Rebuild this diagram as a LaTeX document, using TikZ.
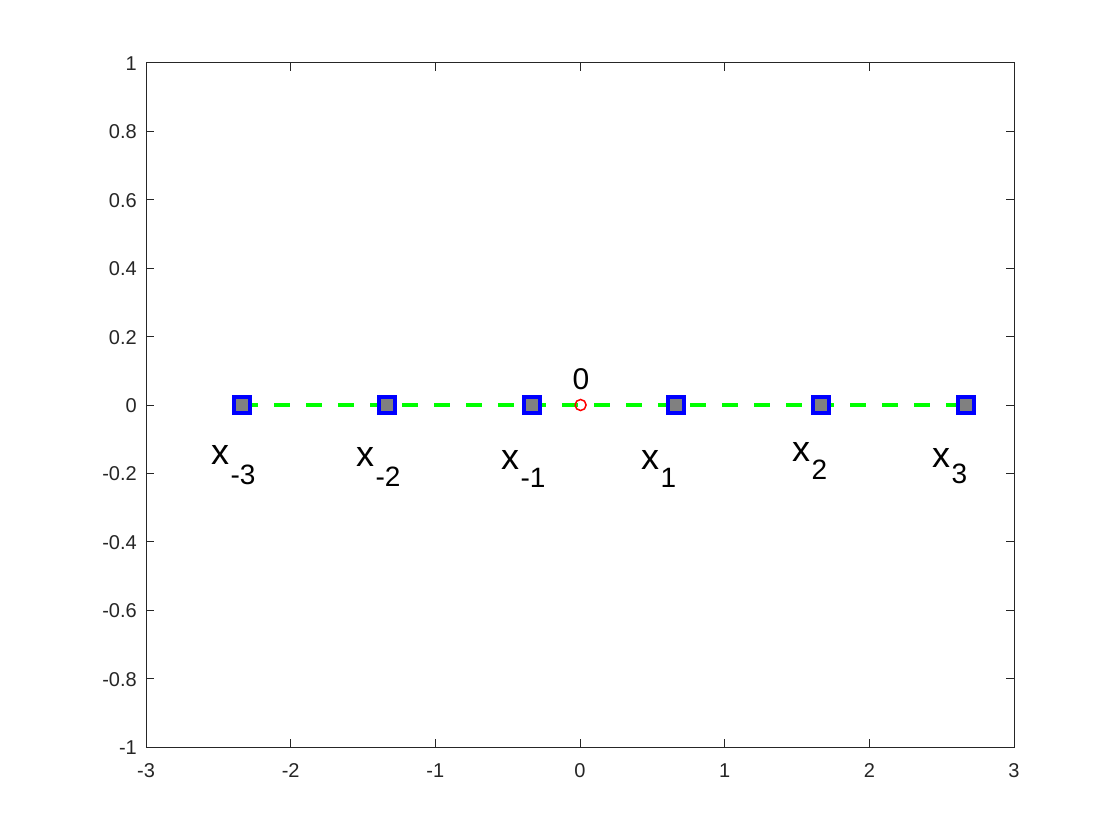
\documentclass[tikz,border=0pt]{standalone}
\usepackage{fontspec}
\setmainfont{Liberation Sans}
\definecolor{axcol}{RGB}{38,38,38}
\definecolor{mgreen}{RGB}{0,255,0}
\definecolor{mblue}{RGB}{0,0,255}
\definecolor{mgray}{RGB}{128,128,128}
\definecolor{mred}{RGB}{255,0,0}
\begin{document}
\begin{tikzpicture}[x=1pt,y=-1pt,
  axisline/.style={draw=axcol,line width=1pt},
  ticklab/.style={font=\fontsize{20}{22}\selectfont,text=axcol,inner sep=0pt},
  datline/.style={draw=mgreen,line width=4pt,dash pattern=on 16pt off 16pt},
  sqmark/.style={rectangle,draw=mblue,fill=mgray,line width=4pt,minimum size=16pt,inner sep=0pt},
  circmark/.style={circle,draw=mred,line width=1.5pt,minimum size=11pt,inner sep=0pt},
  xlab/.style={inner sep=0pt,anchor=base west,font=\fontsize{36}{38}\selectfont},
  sublab/.style={inner sep=0pt,anchor=base west,font=\fontsize{28}{30}\selectfont}]
\useasboundingbox (0,0) rectangle (1120,840);
\fill[white] (0,0) rectangle (1120,840);
% axes box
\draw[axisline] (146,63) rectangle (1014,747);
% x ticks
\foreach \v [count=\i] in {-3,-2,-1,0,1,2,3} {
  \pgfmathsetmacro\px{580+144.667*\v}
  \draw[axisline] (\px,747) -- (\px,739);
  \draw[axisline] (\px,63) -- (\px,71);
  \node[ticklab,anchor=base] (xt\i) at (\px,777) {\v};
}
% y ticks
\foreach \v [count=\i] in {-1,-0.8,-0.6,-0.4,-0.2,0,0.2,0.4,0.6,0.8,1} {
  \pgfmathsetmacro\py{405-342*\v}
  \draw[axisline] (146,\py) -- (154,\py);
  \draw[axisline] (1014,\py) -- (1006,\py);
  \node[ticklab,anchor=base east] (yt\i) at (137,\py+7.5) {\v};
}
% data points
\coordinate (p1) at (242.4,405);
\coordinate (p2) at (387.1,405);
\coordinate (p3) at (531.8,405);
\coordinate (p4) at (676.4,405);
\coordinate (p5) at (821.1,405);
\coordinate (p6) at (965.8,405);
\draw[datline] (p1) -- (p6);
\foreach \k in {1,...,6} { \node[sqmark] (m\k) at (p\k) {}; }
\node[circmark] (zero) at (580.6,405) {};
\node[inner sep=0pt,anchor=base,font=\fontsize{30}{32}\selectfont] (zlab) at (581,389) {0};
% labels
\node[xlab] (l1) at (211,464) {x};
\node[sublab] (s1) at ([xshift=1pt]l1.base east |- 0,484) {-3};
\node[xlab] (l2) at (356,466) {x};
\node[sublab] (s2) at ([xshift=1pt]l2.base east |- 0,486) {-2};
\node[xlab] (l3) at (501,469) {x};
\node[sublab] (s3) at ([xshift=1pt]l3.base east |- 0,487) {-1};
\node[xlab] (l4) at (641,469) {x};
\node[sublab] (s4) at ([xshift=1pt]l4.base east |- 0,487) {1};
\node[xlab] (l5) at (792,461) {x};
\node[sublab] (s5) at ([xshift=1pt]l5.base east |- 0,479) {2};
\node[xlab] (l6) at (932,467) {x};
\node[sublab] (s6) at ([xshift=1pt]l6.base east |- 0,483) {3};
\end{tikzpicture}
\end{document}
